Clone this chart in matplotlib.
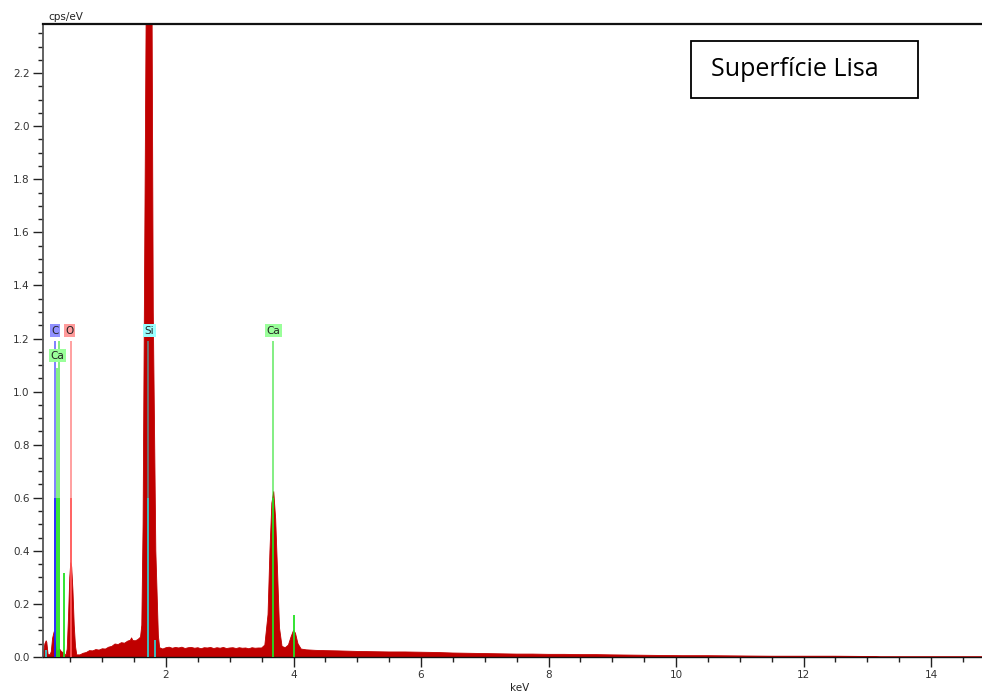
import matplotlib
matplotlib.use("Agg")
import matplotlib.pyplot as plt
from matplotlib.patches import Rectangle
from matplotlib.ticker import MultipleLocator, FormatStrFormatter

# ---------------- data ----------------
energy_kev = [
    0.07, 0.08, 0.10, 0.12, 0.13, 0.15, 0.18, 0.20, 0.22, 0.245, 0.26, 0.28,
    0.30, 0.33, 0.36, 0.40, 0.43, 0.45, 0.47, 0.49, 0.505, 0.52, 0.54, 0.56,
    0.58, 0.60, 0.65, 0.70, 0.75, 0.80, 0.85, 0.90, 0.95, 1.00, 1.05, 1.10,
    1.15, 1.20, 1.25, 1.30, 1.35, 1.40, 1.44, 1.46, 1.48, 1.52, 1.56, 1.60,
    1.62, 1.64, 1.66, 1.69, 1.735, 1.78, 1.80, 1.84, 1.88, 1.90, 1.95, 2.00,
    2.05, 2.10, 2.15, 2.20, 2.25, 2.30, 2.35, 2.40, 2.45, 2.50, 2.55, 2.60,
    2.65, 2.70, 2.75, 2.80, 2.85, 2.90, 2.95, 3.00, 3.05, 3.10, 3.15, 3.20,
    3.25, 3.30, 3.35, 3.40, 3.45, 3.50, 3.55, 3.60, 3.63, 3.66, 3.69, 3.72,
    3.75, 3.78, 3.82, 3.87, 3.92, 3.96, 4.00, 4.03, 4.07, 4.12, 4.20, 4.35,
    4.50, 4.70, 5.00, 5.25, 5.50, 5.75, 6.00, 6.25, 6.50, 6.75, 7.00, 7.25,
    7.50, 7.75, 8.00, 8.25, 8.50, 8.75, 9.00, 9.35, 9.70, 10.1, 10.5, 11.0,
    11.5, 12.0, 12.5, 13.0, 13.2, 14.8,
]
cps_per_ev = [
    0.000, 0.020, 0.050, 0.061, 0.055, 0.010, 0.008, 0.020, 0.070, 0.095, 0.060, 0.030,
    0.020, 0.030, 0.020, 0.015, 0.005, 0.030, 0.150, 0.300, 0.355, 0.340, 0.250, 0.120,
    0.040, 0.008, 0.008, 0.014, 0.017, 0.024, 0.023, 0.028, 0.026, 0.031, 0.030, 0.037,
    0.040, 0.049, 0.047, 0.054, 0.052, 0.060, 0.063, 0.072, 0.062, 0.061, 0.066, 0.075,
    0.120, 0.500, 1.300, 2.500, 3.200, 2.500, 1.300, 0.400, 0.080, 0.035, 0.030, 0.035,
    0.037, 0.033, 0.036, 0.034, 0.037, 0.032, 0.035, 0.036, 0.033, 0.035, 0.031, 0.035,
    0.034, 0.036, 0.032, 0.035, 0.033, 0.036, 0.032, 0.034, 0.035, 0.032, 0.035, 0.033,
    0.034, 0.031, 0.035, 0.033, 0.034, 0.034, 0.045, 0.160, 0.400, 0.580, 0.623, 0.520,
    0.320, 0.110, 0.040, 0.035, 0.045, 0.075, 0.100, 0.090, 0.050, 0.030, 0.027, 0.025,
    0.024, 0.023, 0.021, 0.020, 0.019, 0.019, 0.018, 0.017, 0.015, 0.014, 0.013, 0.012,
    0.011, 0.011, 0.010, 0.010, 0.009, 0.009, 0.008, 0.007, 0.006, 0.005, 0.005, 0.004,
    0.003, 0.003, 0.003, 0.002, 0.000, 0.000,
]

# element marker lines: position (keV), height (cps/eV), colour
marker_kev = [0.11, 0.254, 0.285, 0.317, 0.405, 0.505, 1.72, 1.82, 3.68, 4.008]
marker_height = [0.026, 1.19, 1.09, 1.19, 0.316, 1.19, 1.19, 0.064, 1.19, 0.158]
marker_color = ["#33cccc", "#1a1aff", "#22e022", "#22e022", "#22e022", "#ff5555",
                "#33cccc", "#33cccc", "#22e022", "#22e022"]

# element labels
label_text = ["C", "O", "Ca", "Si", "Ca"]
label_kev = [0.258, 0.49, 0.295, 1.735, 3.68]
label_y = [1.23, 1.23, 1.135, 1.23, 1.23]
label_color = ["#9090ff", "#ff9a9a", "#9aff9a", "#9affff", "#9aff9a"]

ytick_labels_step = 0.2
xtick_labels_step = 2

# ---------------- figure ----------------
W, H = 982, 695
fig = plt.figure(figsize=(W / 100, H / 100), dpi=100)
ax = fig.add_axes([43 / W, 1 - 657 / H, 1 - 43 / W, (657 - 24) / H])

ax.fill_between(energy_kev, cps_per_ev, 0, color="#c00000", lw=0.6,
                edgecolor="#c00000", zorder=2)

for e, h, c in zip(marker_kev, marker_height, marker_color):
    if h > 0.9:
        ax.vlines(e, 0, 0.6, color=c, lw=1.3, zorder=3)
        ax.vlines(e, 0.6, h, color=c, lw=1.3, alpha=0.6, zorder=3)
    else:
        ax.vlines(e, 0, h, color=c, lw=1.3, zorder=3)

for t, e, y, c in zip(label_text, label_kev, label_y, label_color):
    ax.text(e, y, t, ha="center", va="center", fontsize=7.5, color="#222222",
            bbox=dict(boxstyle="square,pad=0.15", fc=c, ec="none"), zorder=4)

ax.set_xlim(0.07, 14.8)
ax.set_ylim(0, 2.385)

ax.xaxis.set_major_locator(MultipleLocator(xtick_labels_step))
ax.xaxis.set_minor_locator(MultipleLocator(0.5))
ax.yaxis.set_major_locator(MultipleLocator(ytick_labels_step))
ax.yaxis.set_minor_locator(MultipleLocator(0.05))
ax.yaxis.set_major_formatter(FormatStrFormatter("%.1f"))

ax.tick_params(axis="both", which="major", length=7, width=1, color="#222222",
               labelsize=7.5, labelcolor="#333333", pad=2.5, direction="out")
ax.tick_params(axis="both", which="minor", length=3.5, width=1, color="#222222",
               direction="out")

ax.spines["right"].set_visible(False)
ax.spines["left"].set_color("#555555")
ax.spines["left"].set_linewidth(1.3)
ax.spines["bottom"].set_color("#111111")
ax.spines["bottom"].set_linewidth(1.0)
ax.spines["top"].set_color("#111111")
ax.spines["top"].set_linewidth(1.6)

fig.text(48 / W, 1 - 17 / H, "cps/eV", ha="left", va="center", fontsize=7.5,
         color="#222222")
fig.text(520 / W, 1 - 688 / H, "keV", ha="center", va="center", fontsize=7.5,
         color="#222222")

# title box
fig.patches.append(Rectangle((691 / W, 1 - 98 / H), (918 - 691) / W, (98 - 41) / H,
                             transform=fig.transFigure, fill=False, ec="black",
                             lw=1.3, zorder=5))
fig.text(711 / W, 1 - 70 / H, "Superfície Lisa", ha="left", va="center",
         fontsize=18, family=["Open Sans", "DejaVu Sans"], color="black")

fig.savefig("out.png", dpi=100)
